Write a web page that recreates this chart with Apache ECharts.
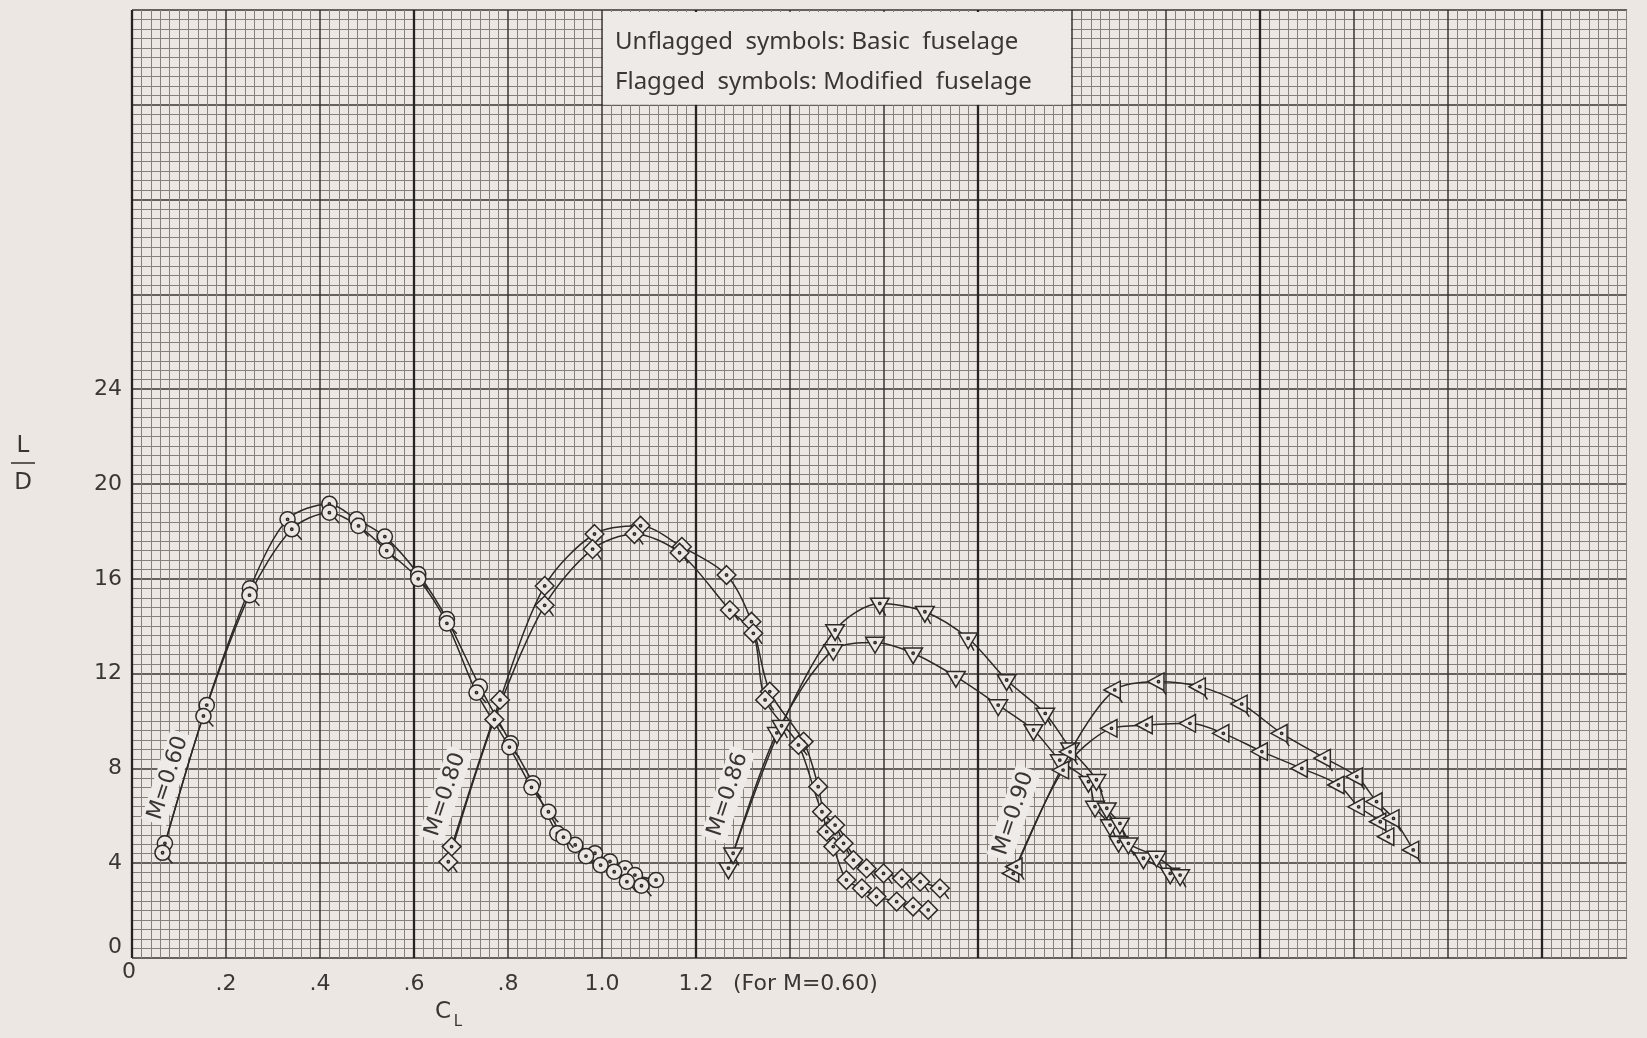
<!DOCTYPE html>
<html>
<head>
<meta charset="utf-8">
<script src="https://cdn.jsdelivr.net/npm/echarts@6/dist/echarts.min.js"></script>
<style>
  html, body { margin: 0; background: #ece7e3; }
  #chart { width: 1647px; height: 1038px; }
</style>
</head>
<body>
<div id="chart"></div>
<script>
// tick labels (only the lower part of the paper is labelled)
var xTickLabels = ['0', '.2', '.4', '.6', '.8', '1.0', '1.2'];
var yTickLabels = ['0', '4', '8', '12', '16', '20', '24'];

// [CL as plotted, L/D]  -- curves for M>0.60 are shifted along CL on the original sheet
var m60Basic = [[0.070,4.84],[0.159,10.67],[0.251,15.6],[0.331,18.51],[0.420,19.16],[0.478,18.51],[0.538,17.78],[0.609,16.2],[0.670,14.3],[0.740,11.45],[0.806,9.06],[0.853,7.37],[0.905,5.26],[0.943,4.77],[0.985,4.42],[1.017,4.07],[1.049,3.78],[1.070,3.50],[1.115,3.29]];
var m60Modified = [[0.065,4.44],[0.152,10.21],[0.250,15.31],[0.340,18.09],[0.420,18.79],[0.482,18.23],[0.542,17.19],[0.609,16.0],[0.670,14.12],[0.733,11.2],[0.803,8.9],[0.850,7.2],[0.886,6.17],[0.918,5.1],[0.966,4.30],[0.997,3.92],[1.026,3.64],[1.053,3.22],[1.084,3.05]];

var m80Basic = [[0.680,4.70],[0.783,10.89],[0.878,15.70],[0.984,17.89],[1.082,18.24],[1.170,17.35],[1.265,16.16],[1.318,14.19],[1.357,11.24],[1.429,9.13],[1.460,7.23],[1.478,5.33],[1.492,4.70],[1.520,3.29],[1.553,2.94],[1.584,2.59],[1.627,2.38],[1.662,2.17],[1.694,2.03]];
var m80Modified = [[0.673,4.06],[0.771,10.06],[0.878,14.88],[0.980,17.25],[1.069,17.89],[1.165,17.1],[1.272,14.68],[1.322,13.70],[1.347,10.89],[1.418,8.99],[1.468,6.17],[1.496,5.61],[1.514,4.84],[1.535,4.13],[1.563,3.78],[1.599,3.57],[1.638,3.36],[1.677,3.22],[1.719,2.94]];

var m86Basic = [[1.269,3.79],[1.372,9.5],[1.492,13.0],[1.581,13.31],[1.662,12.86],[1.753,11.87],[1.843,10.67],[1.918,9.62],[1.974,8.35],[2.035,7.44],[2.049,6.39],[2.081,5.61],[2.099,4.91],[2.152,4.21],[2.209,3.57]];
var m86Modified = [[1.279,4.42],[1.382,9.8],[1.496,13.84],[1.591,14.96],[1.687,14.61],[1.779,13.49],[1.861,11.73],[1.943,10.32],[1.996,8.85],[2.052,7.52],[2.074,6.32],[2.102,5.68],[2.120,4.84],[2.180,4.28],[2.230,3.50]];

var m90Basic = [[1.875,3.57],[1.981,7.93],[2.084,9.69],[2.159,9.83],[2.251,9.90],[2.322,9.48],[2.404,8.71],[2.489,8.0],[2.567,7.30],[2.610,6.38],[2.656,5.75],[2.673,5.12]];
var m90Modified = [[1.882,3.85],[1.996,8.7],[2.091,11.31],[2.184,11.66],[2.272,11.45],[2.361,10.72],[2.446,9.48],[2.538,8.43],[2.606,7.65],[2.648,6.60],[2.684,5.89],[2.726,4.56]];

var machNames = ['M=0.60', 'M=0.80', 'M=0.86', 'M=0.90'];

var paper = '#ece7e3';
var ink = '#2c2927';
var textInk = '#3a3633';
var font = 'DejaVu Sans';

// symbols drawn in a 24x24 box, corners anchored so every mark stays centred
var box = 'M0 0M24 24';
var dot = 'M13 12A1 1 0 1 1 11 12A1 1 0 1 1 13 12Z';
var shapes = {
  circle: 'M18.5 12A6.5 6.5 0 1 1 5.5 12A6.5 6.5 0 1 1 18.5 12Z',
  diamond: 'M12 4L20 12L12 20L4 12Z',
  down: 'M4 7.5L20 7.5L12 21Z',
  left: 'M2.7 12L16.7 4.5L16.7 19.5Z'
};
var flags = {
  circle: 'M16.6 16.6L20.5 21',
  diamond: 'M16 16L19.5 21',
  down: 'M14.2 17.3L17 22.5',
  left: 'M15.5 18.5L18.5 23'
};
function sym(kind, flagged) {
  return 'path://' + box + shapes[kind] + dot + (flagged ? flags[kind] : '');
}

function curve(name, data, kind, flagged) {
  return {
    name: name,
    type: 'line',
    data: data,
    smooth: 0.3,
    symbol: sym(kind, flagged),
    symbolSize: 28,
    showSymbol: true,
    lineStyle: { color: ink, width: 1.5 },
    itemStyle: { color: paper, borderColor: ink, borderWidth: 1.5 },
    emphasis: { disabled: true },
    z: 3
  };
}

var chart = echarts.init(document.getElementById('chart'));

chart.setOption({
  animation: false,
  backgroundColor: paper,
  grid: { left: 132, right: 11, top: 10, bottom: 80 },
  xAxis: [
    {
      type: 'value', min: 0, max: 3.2, interval: 0.2,
      axisLine: { show: false }, axisTick: { show: false },
      axisLabel: {
        color: textInk, fontFamily: font, fontSize: 22, margin: 15,
        formatter: function (v) {
          var i = Math.round(v / 0.2);
          return i > 0 && i < xTickLabels.length ? xTickLabels[i] : '';
        }
      },
      splitLine: { show: true, lineStyle: { color: '#3a3532', width: 1.5 } },
      minorTick: { show: false, splitNumber: 10 },
      minorSplitLine: { show: true, lineStyle: { color: '#86807b', width: 1 } }
    },
    {
      type: 'value', min: 0, max: 3.2, interval: 0.6,
      axisLine: { show: false }, axisTick: { show: false }, axisLabel: { show: false },
      splitLine: { show: true, lineStyle: { color: '#262321', width: 2.3 } }
    }
  ],
  yAxis: [
    {
      type: 'value', min: 0, max: 40, interval: 4,
      axisLine: { show: false }, axisTick: { show: false },
      axisLabel: {
        color: textInk, fontFamily: font, fontSize: 22, margin: 10,
        formatter: function (v) {
          var i = Math.round(v / 4);
          if (i === 0) return '{z|0}';
          return i < yTickLabels.length ? yTickLabels[i] : '';
        },
        rich: { z: { fontFamily: font, fontSize: 22, color: textInk, padding: [0, 0, 22, 0] } }
      },
      splitLine: { show: true, lineStyle: { color: '#3a3532', width: 1.5 } },
      minorTick: { show: false, splitNumber: 10 },
      minorSplitLine: { show: true, lineStyle: { color: '#86807b', width: 1 } }
    }
  ],
  series: [
    curve('M=0.60 basic', m60Basic, 'circle', false),
    curve('M=0.60 modified', m60Modified, 'circle', true),
    curve('M=0.80 basic', m80Basic, 'diamond', false),
    curve('M=0.80 modified', m80Modified, 'diamond', true),
    curve('M=0.86 basic', m86Basic, 'down', false),
    curve('M=0.86 modified', m86Modified, 'down', true),
    curve('M=0.90 basic', m90Basic, 'left', false),
    curve('M=0.90 modified', m90Modified, 'left', true)
  ]
});

// annotations, placed through the grid's own coordinate system
function px(p) { return chart.convertToPixel({ gridIndex: 0 }, p); }
var b0 = px([1.0, 40]), b1 = px([2.0, 36]);
var machAt = [[0.077, 7.6], [0.667, 6.9], [1.268, 6.9], [1.876, 6.1]];
function ts(extra, size) {
  return Object.assign({ fontFamily: font, fontSize: size || 22, fill: textInk }, extra);
}

// the sheet is trimmed just past the last fine line
var e0 = px([3.181, 40]), e1 = px([3.2, 0]);

var g = [
  { type: 'rect', z: 1, shape: { x: e0[0], y: e0[1] - 3, width: e1[0] - e0[0] + 6, height: e1[1] - e0[1] + 6 },
    style: { fill: paper, stroke: null } },
  { type: 'rect', z: 1, shape: { x: b0[0] + 1, y: b0[1] + 2, width: b1[0] - b0[0] - 2, height: b1[1] - b0[1] - 2 },
    style: { fill: '#eeeae7', stroke: null } },
  { type: 'text', z: 1, x: b0[0] + 13, y: b0[1] + 32,
    style: ts({ text: 'Unflagged  symbols: Basic  fuselage', verticalAlign: 'middle', fontFamily: 'Noto Sans' }, 24) },
  { type: 'text', z: 1, x: b0[0] + 13, y: b0[1] + 72,
    style: ts({ text: 'Flagged  symbols: Modified  fuselage', verticalAlign: 'middle', fontFamily: 'Noto Sans' }, 24) }
];

machNames.forEach(function (name, i) {
  var p = px(machAt[i]);
  g.push({ type: 'text', z: 1, x: p[0], y: p[1], rotation: 1.25,
    style: ts({ text: name, align: 'center', verticalAlign: 'middle',
      backgroundColor: '#efebe8', padding: [2, 4] }, 22) });
});

var o = px([0, 0]);
g.push({ type: 'text', z: 1, x: o[0] - 3, y: o[1] + 14, style: ts({ text: '0', align: 'center', verticalAlign: 'middle' }) });
var t12 = px([1.2, 0]);
g.push({ type: 'text', z: 1, x: t12[0] + 37, y: t12[1] + 26,
  style: ts({ text: '(For M=0.60)', verticalAlign: 'middle' }, 22) });

// axis titles
g.push({ type: 'text', z: 1, x: 443, y: 1012, style: ts({ text: 'C', align: 'center', verticalAlign: 'middle' }, 23) });
g.push({ type: 'text', z: 1, x: 458, y: 1022, style: ts({ text: 'L', align: 'center', verticalAlign: 'middle' }, 15) });
g.push({ type: 'text', z: 1, x: 23, y: 446, style: ts({ text: 'L', align: 'center', verticalAlign: 'middle' }, 23) });
g.push({ type: 'line', z: 1, shape: { x1: 11, y1: 463, x2: 35, y2: 463 }, style: { stroke: textInk, lineWidth: 1.6 } });
g.push({ type: 'text', z: 1, x: 23, y: 483, style: ts({ text: 'D', align: 'center', verticalAlign: 'middle' }, 23) });

chart.setOption({ graphic: g });
</script>
</body>
</html>
